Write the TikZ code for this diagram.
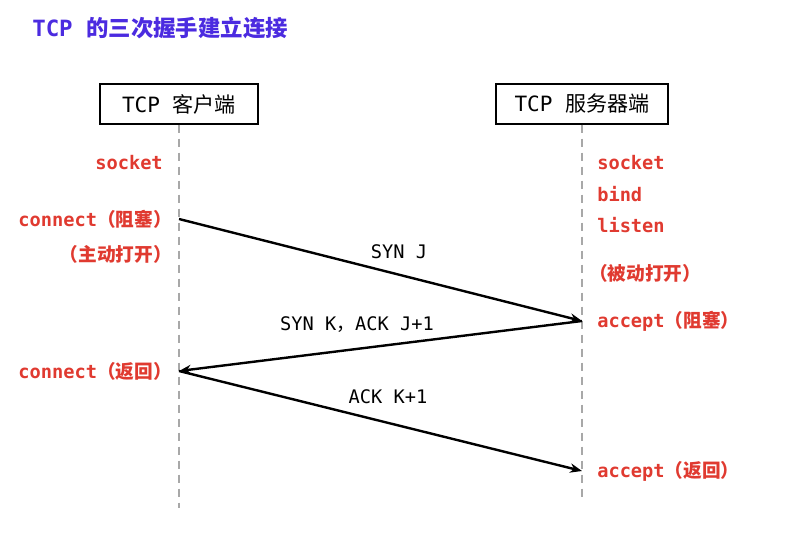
\documentclass[tikz,border=0pt]{standalone}
\usepackage{fontspec}
\setmainfont{DejaVu Sans Mono}
\newfontfamily\cjk{Noto Sans CJK SC}
\usetikzlibrary{arrows.meta}
\definecolor{titleblue}{HTML}{4B2BE0}
\definecolor{callred}{HTML}{E03A30}
\definecolor{lifegray}{HTML}{A8A8A8}
\tikzset{
  party/.style={draw,line width=1pt,minimum height=30pt,inner sep=0pt,font=\fontsize{15.8}{18}\selectfont},
  call/.style={text=callred,inner sep=0pt,font=\bfseries\fontsize{14}{16}\selectfont},
  msg/.style={font=\fontsize{14}{16}\selectfont},
  life/.style={lifegray,line width=1.5pt,dash pattern=on 6pt off 4.5pt},
  flow/.style={line width=1.8pt,-{Stealth[length=9pt,width=7pt]}}
}
\begin{document}
\begin{tikzpicture}[x=0.75pt,y=-0.75pt]
\useasboundingbox (0,0) rectangle (795,532);
\node[anchor=west,inner sep=0pt,text=titleblue,font=\bfseries\fontsize{16.8}{19}\selectfont] (title) at (32,28) {TCP {\cjk 的三次握手建立连接}};
% the two parties
\node[party,minimum width=118.5pt] (client) at (179,104) {TCP {\cjk 客户端}};
\node[party,minimum width=129pt] (server) at (582,104) {TCP {\cjk 服务器端}};
\coordinate (cend) at (179,508);
\coordinate (send) at (582,502);
\draw[life](client.south)--(cend);
\draw[life](server.south)--(send);
% client calls
\node[call,anchor=east] (csocket) at (163,163) {socket};
\node[call,anchor=east] (cconn) at (172,219) {connect{\cjk （阻塞）}};
\node[call,anchor=east] (copen) at (172,254) {\cjk （主动打开）};
\node[call,anchor=east] (cret) at (172,371) {connect{\cjk （返回）}};
% server calls
\node[call,anchor=west] (ssocket) at (597,163) {socket};
\node[call,anchor=west] (sbind) at (597,194) {bind};
\node[call,anchor=west] (slisten) at (597,225) {listen};
\node[call,anchor=west] (sopen) at (589,273) {\cjk （被动打开）};
\node[call,anchor=west] (saccept) at (597,321) {accept{\cjk （阻塞）}};
\node[call,anchor=west] (sret) at (597,471) {accept{\cjk （返回）}};
% segments
\coordinate (c1) at (179,219);
\coordinate (s1) at (582,321);
\coordinate (c2) at (179,371);
\coordinate (s2) at (582,471);
\draw[flow](c1)--(s1);
\draw[flow](s1)--(c2);
\draw[flow](c2)--(s2);
\node[msg] (syn) at (399,252) {SYN J};
\node[msg] (synack) at (357,325) {SYN K{\cjk ，}ACK J+1};
\node[msg] (ack) at (388,397) {ACK K+1};
\end{tikzpicture}
\end{document}
